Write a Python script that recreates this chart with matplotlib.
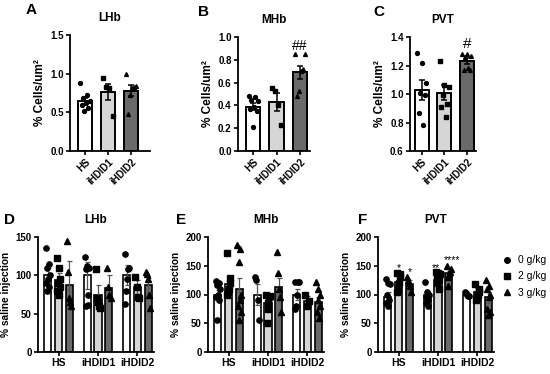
import numpy as np
import matplotlib
matplotlib.use("Agg")
import matplotlib.pyplot as plt
from matplotlib.lines import Line2D

plt.rcParams['font.family'] = ['Liberation Sans', 'DejaVu Sans']
plt.rcParams['font.weight'] = 'bold'

# ---- top row data (cells / um^2) ----
groups = ["HS", "iHDID1", "iHDID2"]
top_colors = ["white", "#d6d6d6", "#6a6a6a"]
top_markers = ["o", "s", "^"]

lhb_mean = [0.65, 0.76, 0.78]
lhb_sem = [0.04, 0.10, 0.07]
lhb_pts = [[0.88, 0.72, 0.69, 0.65, 0.62, 0.60, 0.55, 0.52],
           [0.94, 0.83, 0.81, 0.45],
           [1.00, 0.84, 0.83, 0.82, 0.72, 0.48]]

mhb_mean = [0.39, 0.43, 0.69]
mhb_sem = [0.03, 0.08, 0.06]
mhb_pts = [[0.48, 0.47, 0.45, 0.44, 0.39, 0.37, 0.35, 0.21],
           [0.55, 0.53, 0.40, 0.23],
           [0.85, 0.85, 0.72, 0.70, 0.53, 0.48]]

pvt_mean = [1.03, 1.01, 1.23]
pvt_sem = [0.07, 0.05, 0.02]
pvt_pts = [[1.29, 1.22, 1.08, 1.01, 0.99, 0.87, 0.78],
           [1.23, 1.06, 1.05, 0.99, 0.93, 0.91, 0.84],
           [1.28, 1.28, 1.27, 1.26, 1.17, 1.17, 1.18]]

# ---- bottom row data (% saline injection), [group][dose] ----
doses = ["0 g/kg", "2 g/kg", "3 g/kg"]

d_mean = [[100, 94, 88], [100, 74, 84], [100, 85, 87]]
d_sem = [[10, 9, 31], [18, 13, 16], [13, 9, 10]]
d_pts = [[[136, 115, 110, 100, 95, 90, 85, 80], [122, 110, 95, 90, 85, 80, 75], [145, 105, 70, 65, 60]],
         [[124, 112, 110, 108, 75, 60, 61], [108, 70, 65, 60, 58], [110, 85, 75, 70]],
         [[128, 110, 108, 95, 80, 63], [98, 85, 72, 70], [105, 102, 95, 75, 58]]]

e_mean = [[100, 118, 110], [100, 85, 113], [100, 88, 87]]
e_sem = [[8, 10, 18], [18, 10, 15], [10, 10, 8]]
e_pts = [[[123, 120, 117, 110, 100, 95, 90, 55], [172, 128, 120, 110, 105, 100], [186, 180, 157, 100, 90, 80, 70, 55]],
         [[131, 125, 90, 55], [100, 98, 95, 85, 75, 50], [174, 138, 110, 95, 70]],
         [[122, 122, 122, 100, 80, 75], [100, 88, 80], [122, 110, 100, 90, 80, 70, 60]]]

f_mean = [[96, 122, 119], [100, 126, 137], [100, 104, 95]]
f_sem = [[8, 8, 6], [5, 5, 4], [2, 8, 9]]
f_pts = [[[127, 120, 118, 100, 90, 85, 80], [138, 135, 130, 120, 110, 105], [130, 125, 120, 115, 105]],
         [[122, 105, 100, 95, 90, 85, 80], [140, 138, 135, 130, 125, 120, 110], [150, 145, 140, 135, 130, 115]],
         [[104, 102, 100, 98, 97], [118, 110, 105, 100, 95, 90], [125, 115, 110, 100, 95, 75, 70, 65]]]
# significance marks on PVT: (group, dose, text, height of the mark)
f_stars = [(0, 1, "*", 140), (0, 2, "*", 133), (1, 1, "**", 141), (1, 2, "****", 155)]

W, H = 550, 374
fig = plt.figure(figsize=(5.5, 3.74), dpi=100)


def px_axes(left, right, top, bottom):
    return fig.add_axes([left / W, 1 - bottom / H, (right - left) / W, (bottom - top) / H])


def style(ax):
    for s in ['top', 'right']:
        ax.spines[s].set_visible(False)
    for s in ['left', 'bottom']:
        ax.spines[s].set_linewidth(1.3)
    ax.tick_params(width=1.2, length=3, labelsize=7, pad=1.5)
    for lab in ax.get_yticklabels() + ax.get_xticklabels():
        lab.set_fontweight('bold')


def spread(n, w):
    if n == 1:
        return np.zeros(1)
    off = np.linspace(-w, w, n)
    order = np.argsort([(i * 5) % n for i in range(n)])
    return off[order]


def top_panel(ax, mean, sem, pts, yticks, fmt, title, letter, xlim):
    x = np.arange(3)
    ax.bar(x, mean, width=0.62, color=top_colors, edgecolor='black', linewidth=1.4, zorder=2)
    ax.errorbar(x, mean, yerr=sem, fmt='none', ecolor='black', elinewidth=1.1,
                capsize=2.5, capthick=1.1, zorder=3)
    for i in range(3):
        ax.plot(x[i] + spread(len(pts[i]), 0.2), pts[i], linestyle='none',
                marker=top_markers[i], color='black', markersize=2.8, zorder=4)
    ax.set_xlim(*xlim)
    ax.set_ylim(yticks[0], yticks[-1])
    ax.set_yticks(yticks)
    ax.set_yticklabels([fmt.format(v) for v in yticks])
    ax.set_xticks(x)
    ax.set_xticklabels(groups, rotation=45, ha='right', rotation_mode='anchor')
    ax.set_ylabel("% Cells/um²", fontsize=8.5, fontweight='bold', labelpad=3)
    ax.set_title(title, fontsize=8.5, fontweight='bold', pad=10)
    style(ax)
    ax.text(-0.55, 1.18, letter, transform=ax.transAxes, fontsize=11, fontweight='bold')


def bottom_panel(ax, mean, sem, pts, yticks, title):
    gx = np.arange(3)
    offs = [-0.275, 0, 0.275]
    for g in range(3):
        for d in range(3):
            xx = gx[g] + offs[d]
            ax.bar(xx, mean[g][d], width=0.18, color=top_colors[d], edgecolor='black',
                   linewidth=1.2, zorder=2)
            ax.errorbar(xx, mean[g][d], yerr=sem[g][d], fmt='none', ecolor='#555555',
                        elinewidth=0.9, capsize=1.8, capthick=0.9, zorder=3)
            ax.plot(xx + spread(len(pts[g][d]), 0.05), pts[g][d], linestyle='none',
                    marker=top_markers[d], color='black', markersize=3.8, zorder=4)
    ax.set_xlim(-0.52, 2.42)
    ax.set_ylim(yticks[0], yticks[-1])
    ax.set_yticks(yticks)
    ax.set_xticks(gx)
    ax.set_xticklabels(groups)
    ax.set_ylabel("% saline injection", fontsize=7.3, fontweight='bold', labelpad=3)
    ax.set_title(title, fontsize=8.5, fontweight='bold', pad=10)
    style(ax)
    ax.tick_params(axis='x', labelsize=7.5)


axA = px_axes(70, 150, 35, 151)
top_panel(axA, lhb_mean, lhb_sem, lhb_pts, [0.0, 0.5, 1.0, 1.5], "{:.1f}", "LHb", "A", (-0.65, 2.83))
axB = px_axes(238, 310, 37, 151)
top_panel(axB, mhb_mean, mhb_sem, mhb_pts, [0.0, 0.2, 0.4, 0.6, 0.8, 1.0], "{:.1f}", "MHb", "B", (-0.65, 2.43))
axB.text(2, 0.86, "##", ha='center', va='bottom', fontsize=10, fontweight='normal')
axC = px_axes(410, 476, 37, 151)
top_panel(axC, pvt_mean, pvt_sem, pvt_pts, [0.6, 0.8, 1.0, 1.2, 1.4], "{:.1f}", "PVT", "C", (-0.52, 2.4))
axC.text(2, 1.30, "#", ha='center', va='bottom', fontsize=11, fontweight='normal')

axD = px_axes(38, 154, 237, 352)
bottom_panel(axD, d_mean, d_sem, d_pts, [0, 50, 100, 150], "LHb")
axE = px_axes(208, 324, 237, 352)
bottom_panel(axE, e_mean, e_sem, e_pts, [0, 50, 100, 150, 200], "MHb")
axF = px_axes(378, 494, 237, 352)
bottom_panel(axF, f_mean, f_sem, f_pts, [0, 50, 100, 150, 200], "PVT")

offs_star = [-0.275, 0, 0.275]
nudge = {"**": -0.05, "****": 0.07}
for g, d, txt, yv in f_stars:
    axF.text(g + offs_star[d] + nudge.get(txt, 0), yv, txt, ha='center', va='baseline',
             fontsize=7.5, fontweight='normal')

for letter, xp in [("D", 4), ("E", 176), ("F", 358)]:
    fig.text(xp / W, 1 - 224 / H, letter, fontsize=11, fontweight='bold')

handles = [Line2D([], [], linestyle='none', marker=m, color='black', markersize=4) for m in top_markers]
leg = fig.legend(handles, doses, loc='upper left', bbox_to_anchor=(498 / W, 1 - 251 / H),
                 frameon=False, fontsize=7.5, handletextpad=0.5, labelspacing=0.6,
                 handlelength=1.0, borderaxespad=0)
for t in leg.get_texts():
    t.set_fontweight('normal')

fig.savefig("out.png", dpi=100)
